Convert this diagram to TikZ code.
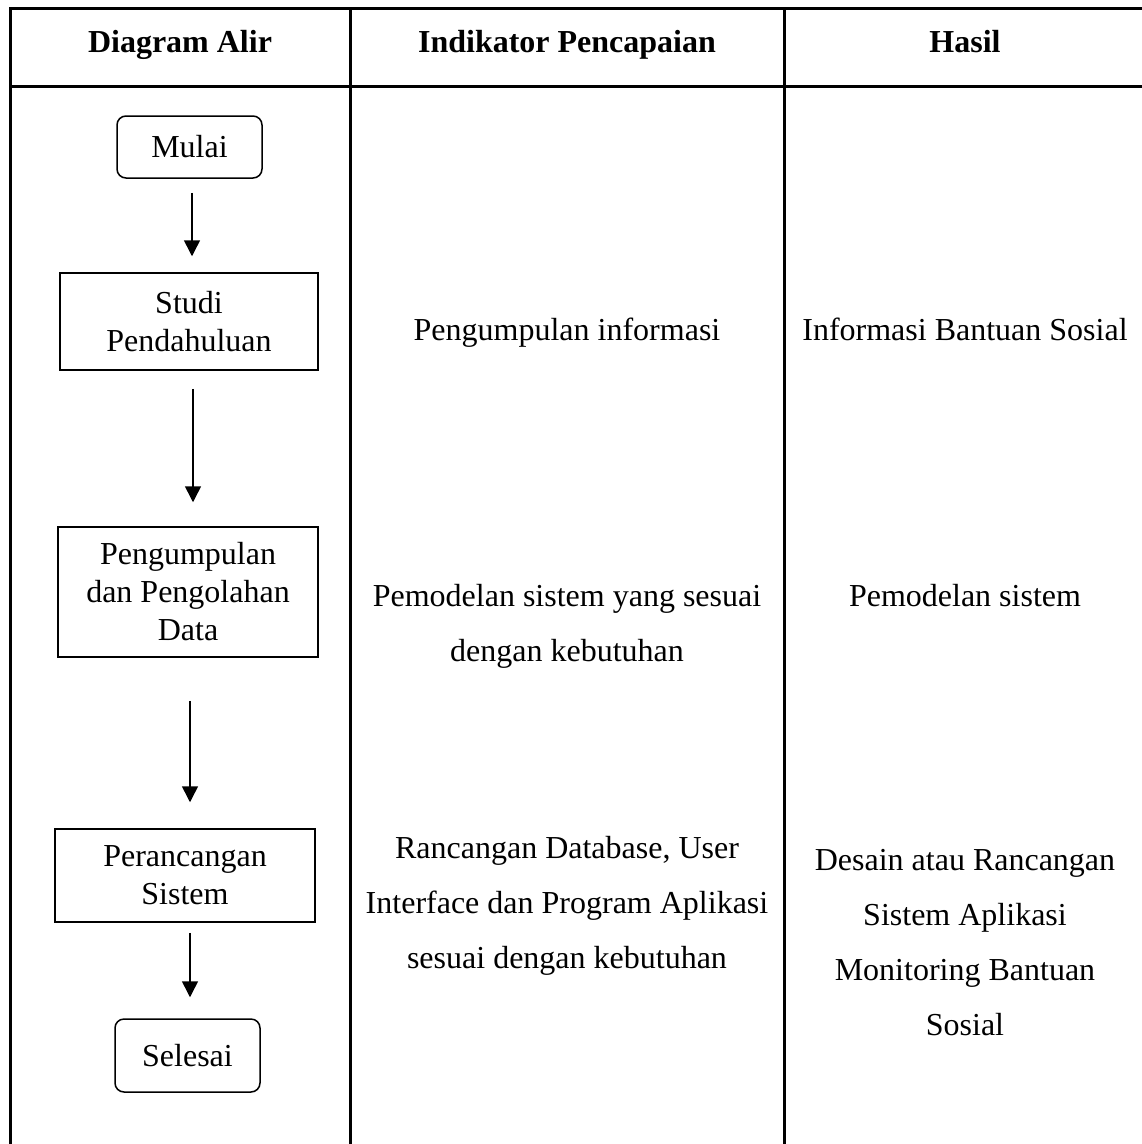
\documentclass[tikz,border=0pt]{standalone}
\usepackage{fontspec}
\setmainfont{Liberation Serif}
\usetikzlibrary{arrows.meta}

\begin{document}
\begin{tikzpicture}[x=1pt,y=-1pt,
  gridline/.style={line width=3pt, line cap=rect},
  headtext/.style={font=\fontsize{32}{38}\selectfont\bfseries, anchor=base, inner sep=0pt},
  celltext/.style={font=\fontsize{32}{55}\selectfont, align=center, inner sep=0pt},
  terminal/.style={draw, line width=1.5pt, rounded corners=9pt, font=\fontsize{32}{38}\selectfont, align=center, inner sep=0pt},
  process/.style={draw, line width=1.5pt, font=\fontsize{32}{38}\selectfont, align=center, inner sep=0pt},
  flow/.style={line width=1.5pt, -{Triangle[width=16pt,length=16pt]}}
]
\useasboundingbox (0,0) rectangle (1142,1144);
\fill[white] (0,0) rectangle (1142,1144);

% table grid
\draw[gridline] (10,8) -- (1142,8);
\draw[gridline] (10,86) -- (1142,86);
\draw[gridline] (10,8) -- (10,1144);
\draw[gridline] (350,8) -- (350,1144);
\draw[gridline] (784,8) -- (784,1144);

% column headings
\node[headtext] (h1) at (180,52) {Diagram Alir};
\node[headtext] (h2) at (567,52) {Indikator Pencapaian};
\node[headtext] (h3) at (965,52) {Hasil};

% flow chart
\node[terminal, minimum width=145pt, minimum height=62pt] (mulai) at (189.5,147) {Mulai};
\node[process, minimum width=258pt, minimum height=97pt] (studi) at (189,321.5) {Studi\\Pendahuluan};
\node[process, minimum width=260pt, minimum height=130pt] (olah) at (188,592) {Pengumpulan\\dan Pengolahan\\Data};
\node[process, minimum width=260pt, minimum height=93pt] (rancang) at (185,875.5) {Perancangan\\Sistem};
\node[terminal, minimum width=145pt, minimum height=73pt] (selesai) at (187.5,1055.5) {Selesai};

\draw[flow, shorten <=14pt, shorten >=16pt] ([xshift=2.5pt]mulai.south) -- ([xshift=3pt]studi.north);
\draw[flow, shorten <=18pt, shorten >=24pt] ([xshift=4pt]studi.south) -- ([xshift=5pt]olah.north);
\draw[flow, shorten <=43pt, shorten >=26pt] ([xshift=2pt]olah.south) -- ([xshift=5pt]rancang.north);
\draw[flow, shorten <=10pt, shorten >=21pt] ([xshift=5pt]rancang.south) -- ([xshift=2.5pt]selesai.north);

% achievement indicators
\node[celltext, anchor=base] (ind1) at (567,340) {Pengumpulan informasi};
\node[celltext] (ind2) at (567,626) {Pemodelan sistem yang sesuai\\dengan kebutuhan};
\node[celltext] (ind3) at (567,905.5) {Rancangan Database, User\\Interface dan Program Aplikasi\\sesuai dengan kebutuhan};

% results
\node[celltext, anchor=base] (res1) at (965,340) {Informasi Bantuan Sosial};
\node[celltext, anchor=base] (res2) at (965,606) {Pemodelan sistem};
\node[celltext] (res3) at (965,943) {Desain atau Rancangan\\Sistem Aplikasi\\Monitoring Bantuan\\Sosial};
\end{tikzpicture}
\end{document}
